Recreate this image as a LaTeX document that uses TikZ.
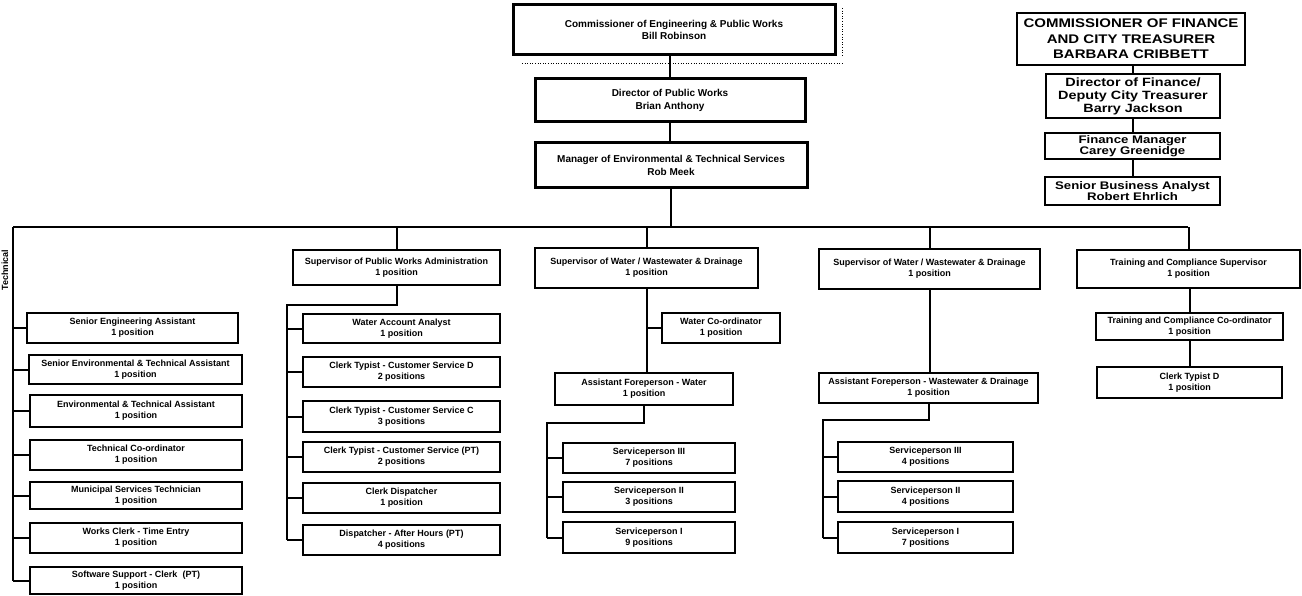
\documentclass[tikz,border=0pt]{standalone}
\usepackage{fontspec}
\setmainfont{Liberation Sans}
\newfontfamily\finfont[FakeStretch=1.2]{Liberation Sans}
\begin{document}
\begin{tikzpicture}[x=1pt,y=-1pt,
  box/.style={draw, line width=2pt, fill=white, inner sep=0pt, outer sep=0pt, align=center, font=\fontsize{9}{11}\selectfont\bfseries},
  hbox/.style={box, line width=2.8pt},
  topbox/.style={box, line width=3pt, font=\fontsize{10}{12.5}\selectfont\bfseries},
  finbig/.style={box, line width=2.2pt, font=\finfont\fontsize{12.5}{15.5}\selectfont\bfseries},
  finbox/.style={box, line width=2pt, font=\finfont\fontsize{12}{13}\selectfont\bfseries},
  finsm/.style={box, line width=2pt, font=\finfont\fontsize{11}{11.5}\selectfont\bfseries},
  conn/.style={line width=2pt},
  dotln/.style={line width=0.6pt, dotted}]
\newcommand\bx[7]{\node[#6, minimum width={(#4-#2)*1pt}, minimum height={(#5-#3)*1pt}] (#1) at ({(#2+#4)/2},{(#3+#5)/2}) {#7};}
\useasboundingbox (0,0) rectangle (1302,596);
% top chain
\bx{comm}{513}{5}{835}{55}{topbox}{Commissioner of Engineering \& Public Works\\Bill Robinson}
\bx{dir}{535}{79}{805}{122}{topbox}{Director of Public Works\\Brian Anthony}
\bx{mgr}{535}{143}{807}{188}{topbox}{Manager of Environmental \& Technical Services\\Rob Meek}
\draw[dotln] (522,63) -- (842,63);
\draw[dotln] (842,8) -- (842,56);
\draw[conn] (dir.north) -- (dir.north |- comm.south);
\draw[conn] (dir.south) -- (dir.south |- mgr.north);
% finance
\bx{fcomm}{1017}{13}{1245}{65}{finbig}{COMMISSIONER OF FINANCE\\AND CITY TREASURER\\BARBARA CRIBBETT}
\bx{fdir}{1046}{74}{1220}{118}{finbox}{Director of Finance/\\Deputy City Treasurer\\Barry Jackson}
\bx{fmgr}{1045}{133}{1220}{159}{finsm}{Finance Manager\\Carey Greenidge}
\bx{fsba}{1045}{177}{1220}{205}{finsm}{Senior Business Analyst\\Robert Ehrlich}
\draw[conn] (fdir.north) -- (fdir.north |- fcomm.south);
\draw[conn] (fdir.south) -- (fdir.south |- fmgr.north);
\draw[conn] (fmgr.south) -- (fmgr.south |- fsba.north);
% bus
\coordinate (busL) at (13,227);
\coordinate (busR) at (1188,227);
\draw[conn] (busL) -- (busR);
\draw[conn] (mgr.south) -- (mgr.south |- busL);
\node[rotate=90, font=\fontsize{9}{11}\selectfont\bfseries, inner sep=0pt] (tech) at (5,270) {Technical};
% left column
\bx{L1}{27}{313}{238}{343}{box}{Senior Engineering Assistant\\1 position}
\bx{L2}{29}{355}{242}{384}{box}{Senior Environmental \& Technical Assistant\\1 position}
\bx{L3}{30}{395}{242}{427}{box}{Environmental \& Technical Assistant\\1 position}
\bx{L4}{30}{440}{242}{470}{box}{Technical Co-ordinator\\1 position}
\bx{L5}{30}{482}{242}{509}{box}{Municipal Services Technician\\1 position}
\bx{L6}{30}{523}{242}{553}{box}{Works Clerk - Time Entry\\1 position}
\bx{L7}{30}{567}{242}{594}{box}{Software Support - Clerk\ \ (PT)\\1 position}
\draw[conn] (busL) -- (L7.west -| busL);
\foreach \n in {L1,L2,L3,L4,L5,L6,L7} \draw[conn] (\n.west) -- (\n.west -| busL);
% column 2
\bx{S2}{293}{250}{500}{285}{hbox}{Supervisor of Public Works Administration\\1 position}
\draw[conn] (S2.north) -- (S2.north |- busL);
\coordinate (e2) at (287,305);
\bx{A1}{303}{314}{500}{343}{box}{Water Account Analyst\\1 position}
\bx{A2}{303}{357}{500}{387}{box}{Clerk Typist - Customer Service D\\2 positions}
\bx{A3}{303}{401}{500}{432}{hbox}{Clerk Typist - Customer Service C\\3 positions}
\bx{A4}{303}{442}{500}{472}{hbox}{Clerk Typist - Customer Service (PT)\\2 positions}
\bx{A5}{303}{483}{500}{513}{hbox}{Clerk Dispatcher\\1 position}
\bx{A6}{303}{525}{500}{555}{hbox}{Dispatcher - After Hours (PT)\\4 positions}
\draw[conn] (S2.south) |- (e2) -- (e2 |- A6.west);
\foreach \n in {A1,A2,A3,A4,A5,A6} \draw[conn] (\n.west) -- (\n.west -| e2);
% column 3
\bx{S3}{535}{248}{758}{288}{hbox}{Supervisor of Water / Wastewater \& Drainage\\1 position}
\draw[conn] (S3.north) -- (S3.north |- busL);
\bx{WC}{662}{313}{780}{343}{box}{Water Co-ordinator\\1 position}
\bx{F3}{555}{373}{733}{405}{box}{Assistant Foreperson - Water\\1 position}
\draw[conn] (S3.south) -- (S3.south |- F3.north);
\draw[conn] (WC.west) -- (WC.west -| S3.south);
\coordinate (e3) at (547,423);
\bx{B1}{563}{443}{735}{473}{box}{Serviceperson III\\7 positions}
\bx{B2}{563}{482}{735}{512}{box}{Serviceperson II\\3 positions}
\bx{B3}{563}{522}{735}{553}{box}{Serviceperson I\\9 positions}
\draw[conn] (F3.south) |- (e3) -- (e3 |- B3.west);
\foreach \n in {B1,B2,B3} \draw[conn] (\n.west) -- (\n.west -| e3);
% column 4
\bx{S4}{819}{249}{1040}{289}{hbox}{Supervisor of Water / Wastewater \& Drainage\\1 position}
\draw[conn] (S4.north) -- (S4.north |- busL);
\bx{F4}{819}{373}{1038}{403}{box}{Assistant Foreperson - Wastewater \& Drainage\\1 position}
\draw[conn] (S4.south) -- (S4.south |- F4.north);
\coordinate (e4) at (823,420);
\bx{D1}{838}{442}{1013}{472}{box}{Serviceperson III\\4 positions}
\bx{D2}{838}{481}{1013}{512}{box}{Serviceperson II\\4 positions}
\bx{D3}{838}{522}{1013}{553}{box}{Serviceperson I\\7 positions}
\draw[conn] (F4.south) |- (e4) -- (e4 |- D3.west);
\foreach \n in {D1,D2,D3} \draw[conn] (\n.west) -- (\n.west -| e4);
% column 5
\bx{S5}{1077}{250}{1300}{288}{hbox}{Training and Compliance Supervisor\\1 position}
\draw[conn] (S5.north) -- (S5.north |- busR);
\bx{T1}{1096}{313}{1283}{340}{box}{Training and Compliance Co-ordinator\\1 position}
\bx{T2}{1097}{367}{1282}{398}{box}{Clerk Typist D\\1 position}
\draw[conn] (T1.north) -- (T1.north |- S5.south);
\draw[conn] (T1.south) -- (T1.south |- T2.north);
\end{tikzpicture}
\end{document}
